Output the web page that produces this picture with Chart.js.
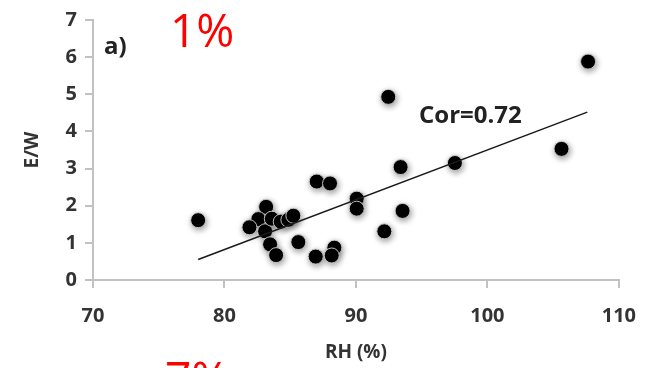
<!DOCTYPE html>
<html>
<head>
<meta charset="utf-8">
<script src="https://cdn.jsdelivr.net/npm/chart.js@4"></script>
<style>
  html, body { margin: 0; padding: 0; background: #fff; }
  #wrap { width: 652px; height: 368px; }
</style>
</head>
<body>
<div id="wrap"><canvas id="ewChart" width="652" height="368"></canvas></div>
<script>
// RH (%) vs E/W
const rhValues = [78.0, 83.17, 82.58, 81.9, 83.09, 83.6, 84.28, 84.86, 85.24, 83.47, 83.93, 85.62,
    86.94, 88.36, 88.16, 87.02, 88.03, 92.46, 93.4, 97.53, 90.06, 90.06, 93.55, 92.16, 107.66, 105.64];
const ewValues = [1.61, 1.97, 1.64, 1.42, 1.31, 1.65, 1.57, 1.62, 1.73, 0.96, 0.67, 1.02,
    0.63, 0.87, 0.66, 2.65, 2.60, 4.93, 3.04, 3.15, 2.19, 1.92, 1.86, 1.31, 5.88, 3.53];

// fitted line end points
const trendX = [78.0, 107.6];
const trendY = [0.55, 4.52];

const xTicks = [70, 80, 90, 100, 110];
const yTicks = [0, 1, 2, 3, 4, 5, 6, 7];

const axisGrey = '#c2c2c2';
const textGrey = '#333333';
const fontFam = '"Open Sans", "DejaVu Sans", sans-serif';

const points = rhValues.map((x, i) => ({ x: x, y: ewValues[i] }));
const trend = trendX.map((x, i) => ({ x: x, y: trendY[i] }));

// soft grey halo under the dots
const dotShadow = {
    id: 'dotShadow',
    beforeDatasetDraw(chart, args) {
        if (args.index !== 1) return;
        const ctx = chart.ctx;
        ctx.shadowColor = 'rgba(0,0,0,0.4)';
        ctx.shadowBlur = 6;
        ctx.shadowOffsetX = 1;
        ctx.shadowOffsetY = 2;
    },
    afterDatasetDraw(chart, args) {
        const ctx = chart.ctx;
        ctx.shadowColor = 'rgba(0,0,0,0)';
        ctx.shadowBlur = 0;
        ctx.shadowOffsetX = 0;
        ctx.shadowOffsetY = 0;
    }
};

// panel letter, percentages and correlation text
const labels = {
    id: 'labels',
    afterDraw(chart) {
        const ctx = chart.ctx;
        ctx.save();
        ctx.textBaseline = 'alphabetic';
        ctx.textAlign = 'left';

        ctx.fillStyle = '#222';
        ctx.font = 'bold 24px ' + fontFam;
        ctx.fillText('a)', 104, 54);

        ctx.fillStyle = '#ff0000';
        ctx.font = '46px ' + fontFam;
        ctx.fillText('1%', 170, 47);
        ctx.fillText('7%', 165, 395);

        ctx.fillStyle = '#222';
        ctx.font = 'bold 24px ' + fontFam;
        ctx.fillText('Cor=0.72', 419, 123);
        ctx.restore();
    }
};

const ctx = document.getElementById('ewChart').getContext('2d');

new Chart(ctx, {
    type: 'scatter',
    data: {
        datasets: [
            {
                type: 'line',
                data: trend,
                borderColor: '#1a1a1a',
                borderWidth: 1.5,
                pointRadius: 0,
                fill: false,
                tension: 0
            },
            {
                data: points,
                backgroundColor: '#000',
                borderColor: 'rgba(210,210,210,0.9)',
                borderWidth: 1,
                pointRadius: 7.5,
                pointHoverRadius: 7.5
            }
        ]
    },
    options: {
        responsive: false,
        animation: false,
        layout: { padding: { left: 0, right: 33, top: 13, bottom: 0 } },
        plugins: {
            legend: { display: false },
            tooltip: { enabled: false }
        },
        scales: {
            x: {
                type: 'linear',
                min: 70,
                max: 110,
                afterFit: (s) => { s.height = 88; },
                afterBuildTicks: (s) => { s.ticks = xTicks.map(v => ({ value: v })); },
                border: { color: axisGrey, width: 2 },
                grid: { drawOnChartArea: false, drawTicks: true, tickLength: 8, color: axisGrey, lineWidth: 2 },
                ticks: { color: textGrey, padding: 16, font: { family: fontFam, size: 20, weight: 'bold' } },
                title: {
                    display: true,
                    text: 'RH (%)',
                    color: textGrey,
                    padding: { top: 0, bottom: 4 },
                    font: { family: fontFam, size: 19, weight: 'bold' }
                }
            },
            y: {
                type: 'linear',
                min: 0,
                max: 7,
                afterFit: (s) => { s.width = 93; },
                afterBuildTicks: (s) => { s.ticks = yTicks.map(v => ({ value: v })); },
                border: { color: axisGrey, width: 2 },
                grid: { drawOnChartArea: false, drawTicks: true, tickLength: 8, color: axisGrey, lineWidth: 2 },
                ticks: { color: textGrey, padding: 8, font: { family: fontFam, size: 20, weight: 'bold' } },
                title: {
                    display: true,
                    text: 'E/W',
                    color: textGrey,
                    padding: { top: 21, bottom: 0 },
                    font: { family: fontFam, size: 19, weight: 'bold' }
                }
            }
        }
    },
    plugins: [dotShadow, labels]
});
</script>
</body>
</html>
